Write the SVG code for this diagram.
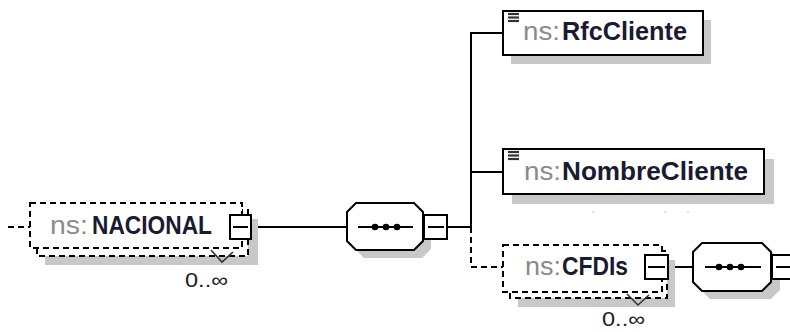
<svg xmlns="http://www.w3.org/2000/svg" width="790" height="332" viewBox="0 0 790 332">
<defs>
<style>
.sh{fill:#c8c8c8;stroke:none}
.box{fill:#fff;stroke:#000;stroke-width:2}
.dbox{fill:#fff;stroke:#000;stroke-width:2;stroke-dasharray:6 4}
.ln{fill:none;stroke:#000;stroke-width:2}
.dln{fill:none;stroke:#000;stroke-width:2;stroke-dasharray:6 4}
.chev{fill:none;stroke:#333;stroke-width:1.6}
.ns{font-family:"Liberation Sans",Arial,sans-serif;font-size:25px;fill:#8a8a8a}
.nm{font-family:"Liberation Sans",Arial,sans-serif;font-size:25px;font-weight:bold;fill:#1a1a33}
.occ{font-family:"Liberation Sans",Arial,sans-serif;font-size:20px;fill:#222}
.ic{stroke:#333;stroke-width:2.2}
</style>
</defs>
<rect width="790" height="332" fill="#fff"/>
<g id="connectors">
<line class="dln" x1="8" y1="227" x2="30" y2="227"/>
<line class="ln" x1="251" y1="227" x2="347" y2="227"/>
<line class="ln" x1="447" y1="227" x2="471" y2="227"/>
<polyline class="ln" points="503,33 471,33 471,227"/>
<line class="ln" x1="471" y1="172" x2="503" y2="172"/>
<polyline class="dln" points="471,227 471,267 503,267"/>
<line class="ln" x1="668" y1="267" x2="693" y2="267"/>
</g>
<g id="nacional">
<rect class="sh" x="45" y="219" width="213" height="46"/>
<rect class="dbox" x="37" y="210" width="211" height="46"/>
<rect class="dbox" x="30" y="203" width="212" height="45"/>
<text class="ns" x="50" y="234" textLength="38" lengthAdjust="spacingAndGlyphs">ns:</text>
<text class="nm" x="92" y="234" textLength="120" lengthAdjust="spacingAndGlyphs">NACIONAL</text>
<rect class="box" x="230" y="215" width="21" height="24"/>
<line class="ln" x1="233" y1="227" x2="248" y2="227"/>
<polyline class="chev" points="211,250 222,262 233,252"/>
<text class="occ" x="185" y="287" textLength="43" lengthAdjust="spacingAndGlyphs">0..∞</text>
</g>
<g id="sequence1">
<polygon class="sh" points="364,211 422,211 431,220 431,249 422,258 364,258 355,249 355,220"/>
<polygon class="box" points="356,203 414,203 423,212 423,241 414,250 356,250 347,241 347,212"/>
<line class="ln" x1="358" y1="227" x2="413" y2="227"/>
<circle cx="375" cy="227" r="3.3"/>
<circle cx="386" cy="227" r="3.3"/>
<circle cx="397" cy="227" r="3.3"/>
<rect class="box" x="424" y="215" width="23" height="24"/>
<line class="ln" x1="428" y1="227" x2="444" y2="227"/>
</g>
<g id="rfccliente">
<rect class="sh" x="511" y="20" width="200" height="44"/>
<rect class="box" x="503" y="11" width="200" height="44"/>
<line class="ic" x1="508" y1="14" x2="519" y2="14"/>
<line class="ic" x1="508" y1="17.5" x2="519" y2="17.5"/>
<line class="ic" x1="508" y1="21" x2="519" y2="21"/>
<text class="ns" x="523" y="40" textLength="37" lengthAdjust="spacingAndGlyphs">ns:</text>
<text class="nm" x="562" y="40" textLength="125" lengthAdjust="spacingAndGlyphs">RfcCliente</text>
</g>
<g id="nombrecliente">
<rect class="sh" x="512" y="159" width="262" height="45"/>
<rect class="box" x="503" y="149" width="261" height="45"/>
<line class="ic" x1="508" y1="152" x2="519" y2="152"/>
<line class="ic" x1="508" y1="155.5" x2="519" y2="155.5"/>
<line class="ic" x1="508" y1="159" x2="519" y2="159"/>
<text class="ns" x="524" y="180" textLength="37" lengthAdjust="spacingAndGlyphs">ns:</text>
<text class="nm" x="562" y="180" textLength="186" lengthAdjust="spacingAndGlyphs">NombreCliente</text>
<rect x="592" y="211" width="2" height="2" fill="#f0d8c0"/>
<rect x="664" y="211" width="2" height="2" fill="#e0e0e8"/>
<rect x="687" y="211" width="2" height="2" fill="#e0e0e8"/>
</g>
<g id="cfdis">
<rect class="sh" x="518" y="260" width="157" height="47"/>
<rect class="dbox" x="510" y="251" width="157" height="47"/>
<rect class="dbox" x="503" y="245" width="159" height="47"/>
<text class="ns" x="525" y="275" textLength="36" lengthAdjust="spacingAndGlyphs">ns:</text>
<text class="nm" x="562" y="275" textLength="66" lengthAdjust="spacingAndGlyphs">CFDIs</text>
<rect class="box" x="645" y="255" width="23" height="24"/>
<line class="ln" x1="648" y1="267" x2="665" y2="267"/>
<polyline class="chev" points="627,294 638,305 649,295"/>
<text class="occ" x="602" y="326" textLength="43" lengthAdjust="spacingAndGlyphs">0..∞</text>
</g>
<g id="sequence2">
<polygon class="sh" points="710,251 771,251 780,260 780,290 771,299 710,299 701,290 701,260"/>
<polygon class="box" points="702,243 762,243 771,252 771,282 762,291 702,291 693,282 693,252"/>
<line class="ln" x1="705" y1="267" x2="761" y2="267"/>
<circle cx="719" cy="267" r="3.3"/>
<circle cx="730" cy="267" r="3.3"/>
<circle cx="741" cy="267" r="3.3"/>
<rect class="box" x="772" y="255" width="23" height="24"/>
<line class="ln" x1="776" y1="267" x2="790" y2="267"/>
</g>
</svg>
